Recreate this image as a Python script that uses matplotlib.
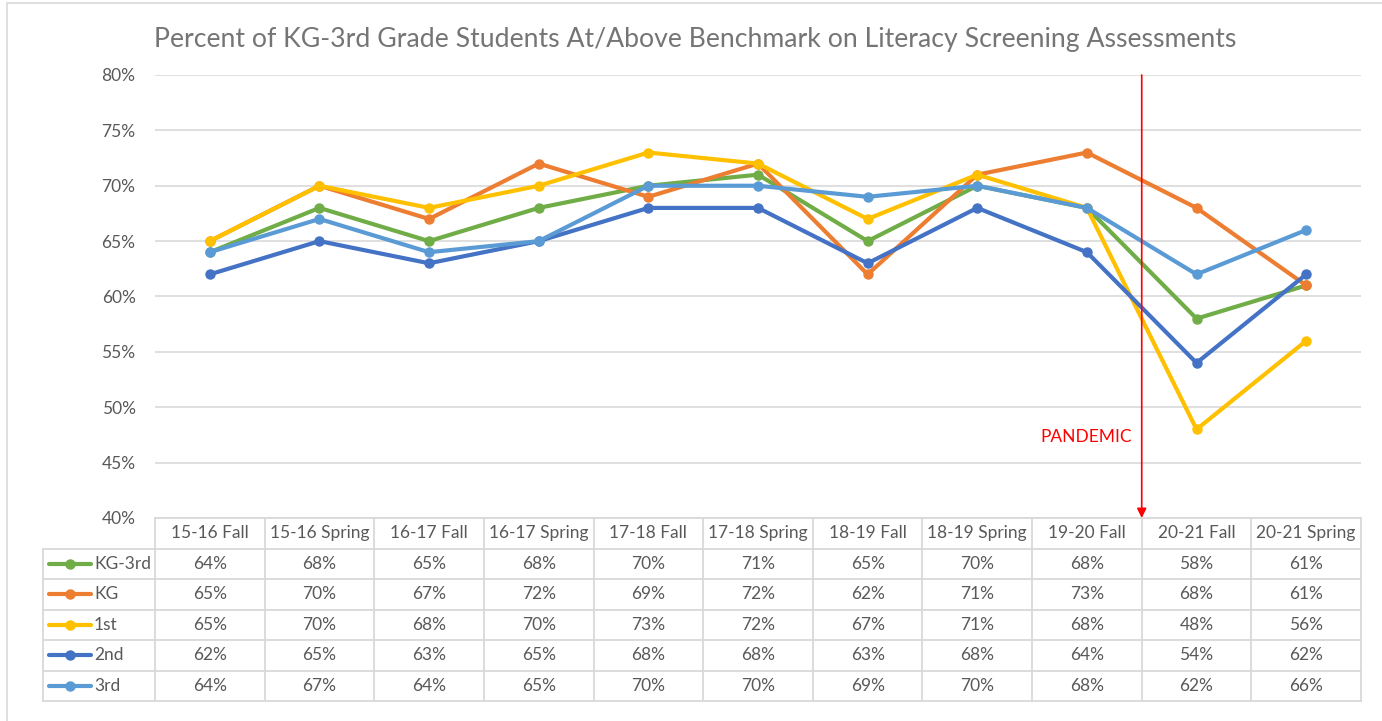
import numpy as np
import matplotlib
matplotlib.use("Agg")
from matplotlib import pyplot as plt
from matplotlib.patches import Rectangle
from matplotlib.lines import Line2D

terms = ["15-16 Fall", "15-16 Spring", "16-17 Fall", "16-17 Spring", "17-18 Fall",
         "17-18 Spring", "18-19 Fall", "18-19 Spring", "19-20 Fall", "20-21 Fall",
         "20-21 Spring"]
kg_3rd = [64, 68, 65, 68, 70, 71, 65, 70, 68, 58, 61]
kg = [65, 70, 67, 72, 69, 72, 62, 71, 73, 68, 61]
first = [65, 70, 68, 70, 73, 72, 67, 71, 68, 48, 56]
second = [62, 65, 63, 65, 68, 68, 63, 68, 64, 54, 62]
third = [64, 67, 64, 65, 70, 70, 69, 70, 68, 62, 66]
series_names = ["KG-3rd", "KG", "1st", "2nd", "3rd"]
colors = ["#70AD47", "#ED7D31", "#FFC000", "#4472C4", "#5B9BD5"]
pandemic_pos = 8.5

W, H = 1382, 721
fig = plt.figure(figsize=(W / 100, H / 100), dpi=100)
plt.rcParams['font.family'] = ['Lato', 'DejaVu Sans']
txt = "#595959"
grid_c = "#D9D9D9"
fs = 12.5


def fx(x):
    return x / W


def fy(y):
    return 1 - y / H


# outer chart border
fig.patches.append(Rectangle((fx(7), fy(740)), fx(1400) - fx(7), fy(3) - fy(740),
                             transform=fig.transFigure, fill=False,
                             edgecolor=grid_c, lw=1.2))

left, right, top, bottom = 155, 1361, 75, 518
ax = fig.add_axes([fx(left), fy(bottom), fx(right) - fx(left), fy(top) - fy(bottom)])
x = np.arange(len(terms))
for vals, c in zip([kg_3rd, kg, first, second, third], colors):
    ax.plot(x, vals, color=c, lw=3, marker="o", ms=6.5, solid_capstyle="round")

ax.set_xlim(-0.5, len(terms) - 0.5)
ax.set_ylim(40, 80)
ax.set_yticks(range(40, 81, 5))
ax.set_yticklabels(["%d%%" % v for v in range(40, 81, 5)], color=txt, fontsize=fs)
ax.set_xticks([])
ax.tick_params(axis="y", length=0, pad=14)
ax.grid(axis="y", color=grid_c, lw=1.2)
ax.set_axisbelow(True)
for s in ax.spines.values():
    s.set_visible(False)

# pandemic marker
ax.annotate("", xy=(pandemic_pos, 40), xytext=(pandemic_pos, 80),
            arrowprops=dict(arrowstyle="-|>", color="#FF0000", lw=1.2,
                            mutation_scale=14, shrinkA=0, shrinkB=0))
ax.text(pandemic_pos - 0.09, 47.3, "PANDEMIC", color="#FF0000", fontsize=fs,
        ha="right", va="center")

fig.text(fx(695), fy(40), "Percent of KG-3rd Grade Students At/Above Benchmark on Literacy Screening Assessments",
         ha="center", va="center", fontsize=19.2, color="#757575")

# data table below the axes
row_h = (701 - bottom) / 6
col_w = (right - left) / len(terms)
leg_left = 43
tbl = [kg_3rd, kg, first, second, third]


def hline(x0, x1, y):
    fig.lines.append(Line2D([fx(x0), fx(x1)], [fy(y), fy(y)], transform=fig.transFigure,
                            color=grid_c, lw=1.3))


def vline(x0, y0, y1):
    fig.lines.append(Line2D([fx(x0), fx(x0)], [fy(y0), fy(y1)], transform=fig.transFigure,
                            color=grid_c, lw=1.3))


hline(left, right, bottom)
for r in range(1, 7):
    hline(leg_left, right, bottom + r * row_h)
vline(leg_left, bottom + row_h, bottom + 6 * row_h)
for c in range(len(terms) + 1):
    vline(left + c * col_w, bottom, bottom + 6 * row_h)

for c, t in enumerate(terms):
    fig.text(fx(left + (c + 0.5) * col_w), fy(bottom + 0.5 * row_h), t,
             ha="center", va="center", fontsize=fs, color=txt)

for r, (name, vals, col) in enumerate(zip(series_names, tbl, colors)):
    yc = bottom + (r + 1.5) * row_h
    fig.lines.append(Line2D([fx(49), fx(91)], [fy(yc), fy(yc)], transform=fig.transFigure,
                            color=col, lw=3, solid_capstyle="round"))
    fig.lines.append(Line2D([fx(70)], [fy(yc)], transform=fig.transFigure, color=col,
                            marker="o", ms=6.5))
    fig.text(fx(94), fy(yc), name, ha="left", va="center", fontsize=fs, color=txt)
    for c, v in enumerate(vals):
        fig.text(fx(left + (c + 0.5) * col_w), fy(yc), "%d%%" % v,
                 ha="center", va="center", fontsize=fs, color=txt)

fig.savefig("out.png", dpi=100)
